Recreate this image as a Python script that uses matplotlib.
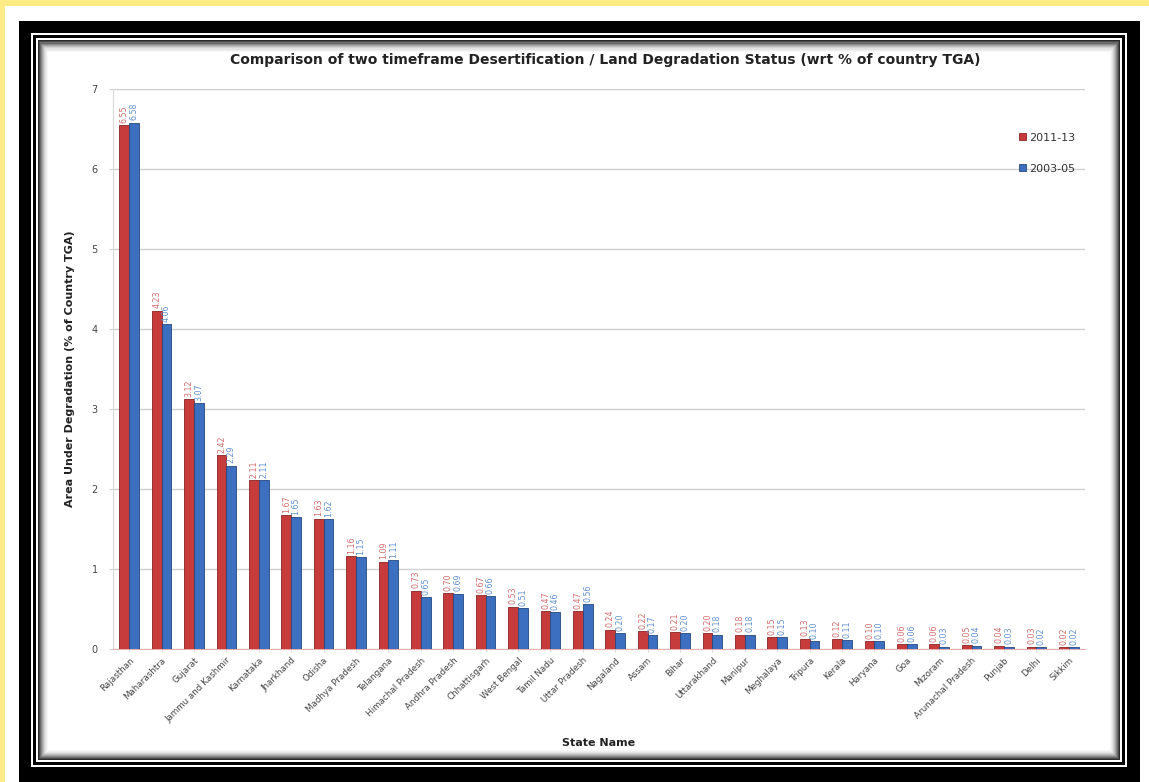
import numpy as np
import matplotlib
matplotlib.use("Agg")
import matplotlib.pyplot as plt
from matplotlib.patches import Rectangle

# ── Data ───────────────────────────────────────────────────────────────────────
states = ["Rajasthan", "Maharashtra", "Gujarat", "Jammu and Kashmir", "Karnataka",
          "Jharkhand", "Odisha", "Madhya Pradesh", "Telangana", "Himachal Pradesh",
          "Andhra Pradesh", "Chhattisgarh", "West Bengal", "Tamil Nadu", "Uttar Pradesh",
          "Nagaland", "Assam", "Bihar", "Uttarakhand", "Manipur",
          "Meghalaya", "Tripura", "Kerala", "Haryana", "Goa",
          "Mizoram", "Arunachal Pradesh", "Punjab", "Delhi", "Sikkim"]
val_2011 = [6.55, 4.23, 3.12, 2.42, 2.11, 1.67, 1.63, 1.16, 1.09, 0.73,
            0.70, 0.67, 0.53, 0.47, 0.47, 0.24, 0.22, 0.21, 0.20, 0.18,
            0.15, 0.13, 0.12, 0.10, 0.06, 0.06, 0.05, 0.04, 0.03, 0.02]
val_2003 = [6.58, 4.06, 3.07, 2.29, 2.11, 1.65, 1.62, 1.15, 1.11, 0.65,
            0.69, 0.66, 0.51, 0.46, 0.56, 0.20, 0.17, 0.20, 0.18, 0.18,
            0.15, 0.10, 0.11, 0.10, 0.06, 0.03, 0.04, 0.03, 0.02, 0.02]
series_names = ["2011-13", "2003-05"]
y_ticks = [0, 1, 2, 3, 4, 5, 6, 7]

W, H = 1149, 782
fig = plt.figure(figsize=(W / 100, H / 100), dpi=100)
fig.patch.set_facecolor("white")


def px_rect(x0, y0, x1, y1, color, z):
    """Rectangle given in pixel coords (y from top)."""
    fig.add_artist(Rectangle((x0 / W, 1 - y1 / H), (x1 - x0) / W, (y1 - y0) / H,
                             transform=fig.transFigure, facecolor=color,
                             edgecolor="none", zorder=z))


# ── Frame ──────────────────────────────────────────────────────────────────────
px_rect(0, 0, W, 6, "#fdeb86", 0)
px_rect(0, 0, 5, H, "#fdeb86", 0)
px_rect(19, 21, 1140, H + 2, "black", 0)
px_rect(31, 33, 1127, 767, "white", 0)
px_rect(33, 35, 1125, 765, "black", 0)
px_rect(36, 38, 1122, 762, "white", 0)
# soft inner shadow
shades = ["#2a2a2a", "#4a4a4a", "#6a6a6a", "#888888", "#a4a4a4", "#bdbdbd",
          "#d2d2d2", "#e3e3e3", "#efefef", "#f7f7f7", "white"]
for i, c in enumerate(shades):
    px_rect(38 + i, 40 + i * 1.2, 1120 - i, 760 - i, c, 0)

# ── Axes ───────────────────────────────────────────────────────────────────────
ax = fig.add_axes([113 / W, 1 - 649 / H, 972 / W, 560 / H])
ax.set_facecolor("none")

x = np.arange(len(states))
w = 0.30
red, blue = "#c63c3c", "#3d6fc0"
ax.bar(x - w / 2, val_2011, w, color=red, edgecolor="#8a2222", linewidth=0.6,
       label=series_names[0], zorder=3)
ax.bar(x + w / 2, val_2003, w, color=blue, edgecolor="#24477f", linewidth=0.6,
       label=series_names[1], zorder=3)

for xi, v in zip(x, val_2011):
    ax.text(xi - w / 2, v + 0.03, f"{v:.2f}", rotation=90, ha="center", va="bottom",
            fontsize=5.7, color="#d36b6b", zorder=4)
for xi, v in zip(x, val_2003):
    ax.text(xi + w / 2, v + 0.03, f"{v:.2f}", rotation=90, ha="center", va="bottom",
            fontsize=5.7, color="#5f8fd0", zorder=4)

ax.set_xlim(-0.5, len(states) - 0.5)
ax.set_ylim(0, 7)
ax.set_yticks(y_ticks)
ax.set_yticklabels([str(t) for t in y_ticks], fontsize=7, color="#444444")
ax.set_xticks(x)
ax.set_xticklabels(states, rotation=45, ha="right", rotation_mode="anchor",
                   fontsize=6.3, color="#444444")
ax.tick_params(axis="y", length=3, color="#cccccc", pad=8)
ax.tick_params(axis="x", length=2, color="#dddddd", pad=3)
ax.yaxis.grid(True, color="#d0d0d0", linewidth=1.0, zorder=0)
ax.set_axisbelow(True)
for s in ["top", "right"]:
    ax.spines[s].set_visible(False)
ax.spines["left"].set_color("#d8d8d8")
ax.spines["bottom"].set_color("#e6b0b0")

ax.set_ylabel("Area Under Degradation (% of Country TGA)", fontsize=8,
              fontweight="bold", color="#222222", labelpad=12)
ax.set_xlabel("State Name", fontsize=8, fontweight="bold", color="#222222",
              labelpad=10)
fig.text(605 / W, 1 - 60 / H,
         "Comparison of two timeframe Desertification / Land Degradation Status (wrt % of country TGA)",
         ha="center", va="center", fontsize=10, fontweight="bold", color="#222222")

leg = ax.legend(loc="upper right", bbox_to_anchor=(1.0, 0.94), frameon=False,
                fontsize=8, handlelength=0.6, handleheight=0.6, labelspacing=1.9,
                handletextpad=0.3)
for t in leg.get_texts():
    t.set_color("#333333")

fig.savefig("out.png", dpi=100)
